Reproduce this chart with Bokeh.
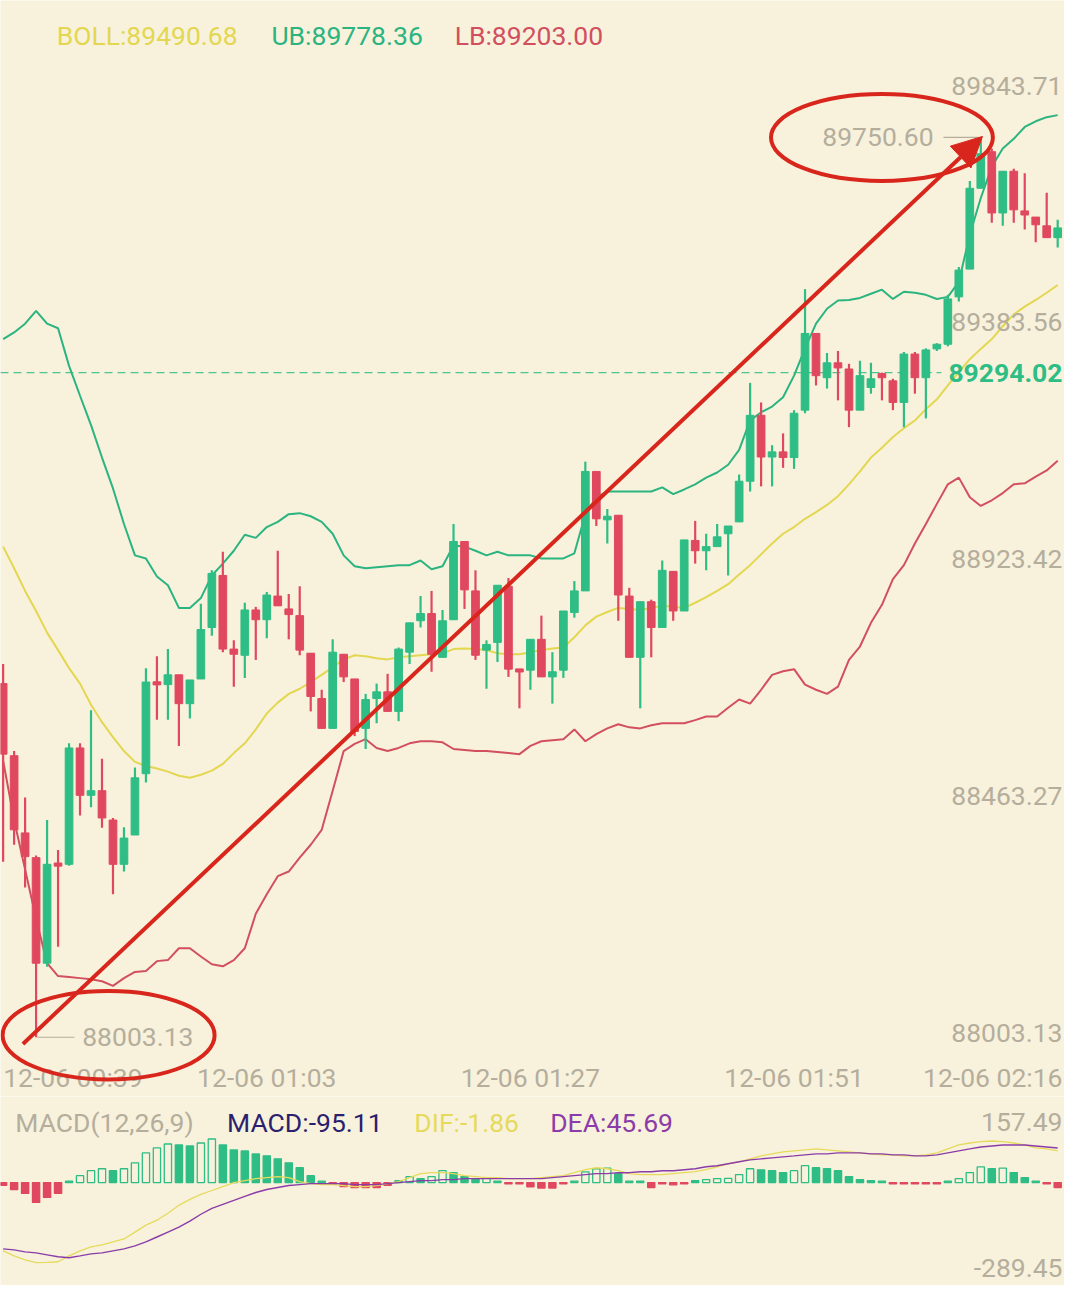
from bokeh.plotting import figure
from bokeh.models import Range1d, ColumnDataSource, Arrow, NormalHead
from bokeh.layouts import column
from bokeh.embed import file_html
from bokeh.resources import INLINE
from bokeh.core.properties import value

# ---------------- data ----------------
TIME_LABELS = ["12-06 00:39", "12-06 01:03", "12-06 01:27", "12-06 01:51", "12-06 02:16"]
TIME_IDX = [0, 24, 48, 72, 96]
TIME_ALIGN = ["left", "center", "center", "center", "right"]

OPEN = [88690, 88550, 88400, 88352, 88147, 88340, 88339, 88565, 88473, 88482,
        88425, 88339, 88396, 88515, 88693, 88688, 88707, 88651, 88699, 88799,
        88900, 88757, 88745, 88833, 88814, 88860, 88835, 88822, 88749, 88661,
        88603, 88747, 88699, 88603, 88661, 88674, 88636, 88751, 88812, 88826,
        88741, 88814, 88966, 88870, 88755, 88770, 88879, 88718, 88716, 88776,
        88703, 88716, 88828, 88870, 89102, 89008, 89017, 88860, 88741, 88849,
        88799, 88908, 88831, 88968, 88948, 88956, 88981, 89004, 89083, 89211,
        89130, 89140, 89129, 89221, 89370, 89284, 89313, 89301, 89221, 89265,
        89292, 89278, 89236, 89330, 89284, 89340, 89349, 89441, 89495, 89652,
        89723, 89604, 89685, 89608, 89596, 89579, 89556]
HIGH = [88728, 88559, 88469, 88356, 88425, 88367, 88574, 88574, 88638, 88544,
        88429, 88411, 88527, 88720, 88743, 88757, 88707, 88697, 88845, 88910,
        88946, 88774, 88847, 88839, 88868, 88948, 88864, 88879, 88749, 88678,
        88776, 88747, 88699, 88670, 88690, 88709, 88760, 88808, 88860, 88870,
        88833, 89000, 88966, 88910, 88774, 88881, 88895, 88718, 88776, 88822,
        88751, 88831, 88889, 89121, 89102, 89029, 89017, 88876, 88849, 88853,
        88929, 88908, 88969, 89006, 88981, 89000, 88996, 89096, 89274, 89236,
        89153, 89176, 89221, 89456, 89370, 89332, 89336, 89311, 89317, 89313,
        89294, 89282, 89334, 89334, 89341, 89351, 89445, 89499, 89666, 89750.60,
        89729, 89685, 89690, 89681, 89596, 89643, 89591]
LOW = [88344, 88377, 88294, 88003.13, 88140, 88179, 88336, 88434, 88450, 88410,
       88281, 88325, 88396, 88498, 88620, 88620, 88569, 88622, 88699, 88783,
       88751, 88684, 88701, 88736, 88778, 88841, 88776, 88745, 88636, 88603,
       88603, 88693, 88588, 88563, 88613, 88636, 88617, 88728, 88799, 88713,
       88741, 88814, 88835, 88736, 88680, 88732, 88703, 88642, 88678, 88703,
       88651, 88701, 88818, 88870, 88996, 88962, 88812, 88741, 88642, 88741,
       88799, 88812, 88831, 88923, 88910, 88956, 88900, 89004, 89063, 89073,
       89073, 89109, 89107, 89215, 89269, 89263, 89240, 89188, 89221, 89253,
       89240, 89221, 89188, 89253, 89205, 89336, 89345, 89432, 89495, 89652,
       89585, 89579, 89585, 89572, 89547, 89556, 89537]
CLOSE = [88553, 88406, 88354, 88147, 88339, 88337, 88565, 88473, 88482, 88429,
         88339, 88390, 88507, 88693, 88688, 88707, 88651, 88697, 88795, 88904,
         88757, 88747, 88833, 88814, 88862, 88841, 88824, 88755, 88665, 88603,
         88751, 88703, 88597, 88659, 88674, 88636, 88757, 88808, 88826, 88747,
         88812, 88966, 88872, 88745, 88766, 88881, 88718, 88713, 88776, 88703,
         88713, 88831, 88870, 89102, 89010, 89015, 88862, 88741, 88849, 88799,
         88910, 88831, 88969, 88948, 88956, 88975, 88996, 89083, 89211, 89130,
         89140, 89129, 89215, 89370, 89288, 89313, 89303, 89221, 89288, 89282,
         89284, 89236, 89330, 89284, 89338, 89349, 89437, 89493, 89652, 89719,
         89604, 89685, 89610, 89600, 89581, 89556, 89575]

UB = [89359, 89372, 89389, 89414, 89389, 89380, 89307, 89249, 89192, 89129,
      89069, 89000, 88939, 88933, 88898, 88881, 88837, 88837, 88856, 88900,
      88923, 88948, 88979, 88973, 88994, 89004, 89019, 89021, 89015, 89004,
      88981, 88939, 88918, 88914, 88916, 88918, 88920, 88920, 88929, 88912,
      88918, 88958, 88956, 88948, 88939, 88946, 88939, 88939, 88939, 88933,
      88933, 88933, 88943, 89019, 89052, 89063, 89063, 89063, 89063, 89063,
      89071, 89058, 89067, 89077, 89090, 89100, 89115, 89144, 89201, 89217,
      89228, 89246, 89288, 89341, 89389, 89418, 89434, 89435, 89439, 89447,
      89455, 89437, 89451, 89449, 89445, 89437, 89441, 89470, 89562, 89633,
      89694, 89729, 89748, 89771, 89782, 89790, 89794]
MB = [88956, 88914, 88870, 88831, 88789, 88755, 88720, 88690, 88649, 88615,
      88586, 88559, 88538, 88530, 88525, 88519, 88511, 88507, 88513, 88521,
      88534, 88555, 88574, 88601, 88632, 88653, 88670, 88680, 88693, 88707,
      88722, 88737, 88745, 88743, 88739, 88737, 88741, 88743, 88745, 88747,
      88749, 88757, 88758, 88757, 88755, 88749, 88747, 88747, 88751, 88755,
      88758, 88760, 88780, 88803, 88820, 88829, 88837, 88835, 88833, 88837,
      88841, 88839, 88837, 88847, 88858, 88870, 88883, 88902, 88920, 88941,
      88962, 88981, 88994, 89010, 89023, 89037, 89054, 89077, 89102, 89129,
      89148, 89169, 89186, 89201, 89223, 89242, 89269, 89295, 89320, 89340,
      89359, 89384, 89407, 89422, 89435, 89449, 89464]
LB = [88540, 88425, 88329, 88233, 88147, 88122, 88120, 88118, 88116, 88112,
      88103, 88118, 88130, 88132, 88151, 88153, 88176, 88176, 88160, 88145,
      88141, 88153, 88176, 88243, 88281, 88316, 88325, 88352, 88377, 88406,
      88482, 88559, 88573, 88582, 88565, 88559, 88565, 88574, 88578, 88578,
      88576, 88563, 88561, 88559, 88559, 88557, 88555, 88553, 88569, 88578,
      88580, 88582, 88601, 88578, 88592, 88603, 88611, 88605, 88603, 88609,
      88613, 88613, 88613, 88619, 88626, 88626, 88643, 88659, 88651, 88678,
      88707, 88714, 88718, 88688, 88678, 88670, 88684, 88736, 88762, 88808,
      88843, 88893, 88920, 88962, 89000, 89039, 89077, 89090, 89052, 89035,
      89046, 89060, 89077, 89079, 89092, 89104, 89123]

DIF = [-246.7, -264.6, -278.9, -289.45, -288.0, -286.0, -264.6, -246.7, -232.4, -225.2,
       -214.5, -203.8, -178.8, -153.7, -135.9, -110.8, -82.2, -60.8, -42.9, -28.6,
       -14.3, 0.0, 7.2, 14.3, 17.9, 21.5, 17.9, 3.6, -3.6, -7.2,
       -7.2, -10.7, -14.3, -14.3, -10.7, -3.6, 3.6, 17.9, 32.2, 35.8,
       35.8, 32.2, 25.0, 21.5, 17.9, 17.9, 14.3, 14.3, 14.3, 17.9,
       21.5, 25.0, 35.8, 46.5, 53.6, 50.0, 42.9, 32.2, 28.6, 28.6,
       28.6, 32.2, 35.8, 39.3, 46.5, 57.2, 67.9, 75.1, 85.8, 96.5,
       103.7, 110.8, 114.4, 118.0, 121.6, 118.0, 114.4, 110.8, 107.3, 103.7,
       100.1, 100.1, 96.5, 96.5, 100.1, 107.3, 121.6, 135.9, 143.0, 148.0,
       150.2, 148.0, 143.0, 135.9, 125.1, 121.6, 114.4]
DEA = [-239.5, -243.1, -250.3, -253.8, -261.0, -268.1, -271.7, -264.6, -257.4, -253.8,
       -246.7, -239.5, -228.8, -214.5, -196.6, -178.8, -160.9, -139.4, -114.4, -93.0,
       -78.7, -64.4, -50.0, -35.8, -25.0, -17.9, -10.7, -7.2, -3.6, -3.6,
       -3.6, -3.6, -7.2, -7.2, -7.2, -3.6, 0.0, 3.6, 7.2, 7.2,
       10.7, 10.7, 14.3, 14.3, 14.3, 14.3, 14.3, 14.3, 14.3, 14.3,
       17.9, 21.5, 25.0, 28.6, 32.2, 32.2, 35.8, 35.8, 39.3, 39.3,
       42.9, 42.9, 46.5, 50.0, 57.2, 60.8, 67.9, 75.1, 82.2, 85.8,
       89.4, 93.0, 96.5, 100.1, 103.7, 103.7, 107.3, 107.3, 107.3, 103.7,
       103.7, 100.1, 100.1, 96.5, 96.5, 100.1, 107.3, 114.4, 121.6, 128.7,
       132.3, 135.9, 135.9, 135.9, 132.3, 128.7, 125.1]
HIST = [-10, -25, -39, -71.5, -53.6, -39, 3, 25, 42.9, 50,
        42.9, 50, 71.5, 107.3, 125.1, 139.4, 135.9, 132.3, 143, 157.49,
        135.9, 118, 114.4, 103.7, 96.5, 85.8, 71.5, 53.6, 25, 3.6,
        -2, -14.3, -17.9, -17.9, -17.9, -10, 7.2, 21.5, 14.3, 21.5,
        42.9, 35.8, 21.5, 14.3, 15, 3, -3, -4, -15, -20,
        -20, -5, 3, 39, 50, 52, 32, 3, 2, -18,
        -5, -8, -3, 7, 11, 14, 15, 29, 50, 46,
        43, 36, 43, 61, 54, 50, 43, 21, 11, 7,
        1, -5, -5, -5, -5, -2, 2, 14, 36, 57,
        50, 52, 36, 18, 2, -5, -18]

PRICE_TICKS = [89843.71, 89383.56, 88923.42, 88463.27, 88003.13]
LAST_PRICE = 89294.02
BOLL_LEGEND = ["BOLL:89490.68", "UB:89778.36", "LB:89203.00"]
MACD_LEGEND = ["MACD(12,26,9)", "MACD:-95.11", "DIF:-1.86", "DEA:45.69"]
MACD_TICKS = [157.49, -289.45]

# ---------------- styling / layout ----------------
BG = "#f8f2dc"
GREEN = "#2ebd85"
RED = "#e0485f"
UB_C = "#2bb380"
MB_C = "#e3d752"
LB_C = "#d24f5f"
GRAY = "#b5ae9d"
ANN = "#d9261c"
DIF_C = "#e6da5c"
DEA_C = "#8b3ca8"
MACD_C = "#2c1f6e"
FONT = value("Roboto")
FS = "26.5px"

W, H = 1064, 1285
REF_W, REF_H, REF_SPLIT = 1080, 1301, 1110
H1 = round(H * REF_SPLIT / REF_H)
H2 = H - H1

X0, X1 = -0.24, 96.62
Y0, Y1 = 87888.1, 90016.6
M0, M1 = -371.8, 311.0


def rx(px):
    return X0 + px / REF_W * (X1 - X0)


def ry_main(py):
    return Y1 - py / REF_SPLIT * (Y1 - Y0)


def ry_macd(py):
    return M1 - (py - REF_SPLIT) / (REF_H - REF_SPLIT) * (M1 - M0)


xr = Range1d(X0, X1)


def make_fig(h, yr):
    f = figure(width=W, height=h, x_range=xr, y_range=yr, output_backend="svg",
               toolbar_location=None, x_axis_location=None, y_axis_location=None,
               min_border=0, min_border_left=0, min_border_right=0,
               min_border_top=0, min_border_bottom=0,
               background_fill_color=BG, border_fill_color=BG, outline_line_color=None)
    f.grid.visible = False
    return f


idx = list(range(len(OPEN)))

# ---------------- main candle chart ----------------
p = make_fig(H1, Range1d(Y0, Y1))

p.line(idx, UB, line_color=UB_C, line_width=2)
p.line(idx, MB, line_color=MB_C, line_width=2)
p.line(idx, LB, line_color=LB_C, line_width=2)

# last price dashed line
p.segment(x0=[X0], y0=[LAST_PRICE], x1=[rx(955)], y1=[LAST_PRICE],
          line_color=GREEN, line_width=1.2, line_dash="8 5", line_alpha=0.85)

MIN_BODY = 6.0
cols, tops, bots = [], [], []
for o, c in zip(OPEN, CLOSE):
    cols.append(GREEN if c >= o else RED)
    hi, lo = max(o, c), min(o, c)
    if hi - lo < MIN_BODY:
        mid = (hi + lo) / 2
        hi, lo = mid + MIN_BODY / 2, mid - MIN_BODY / 2
    tops.append(hi)
    bots.append(lo)
csrc = ColumnDataSource(dict(x=idx, h=HIGH, l=LOW, top=tops, bot=bots, col=cols))
p.segment(x0="x", y0="h", x1="x", y1="l", source=csrc, line_color="col", line_width=2.2)
p.vbar(x="x", width=0.7, top="top", bottom="bot", source=csrc,
       fill_color="col", line_color="col", line_width=1)

# right-side price labels
p.text(x=[X1] * len(PRICE_TICKS), y=PRICE_TICKS, text=[f"{v:.2f}" for v in PRICE_TICKS],
       text_align="right", text_baseline="middle", x_offset=-2, y_offset=-4,
       text_font=FONT, text_font_size=FS, text_color=GRAY)
p.text(x=[X1], y=[LAST_PRICE], text=[f"{LAST_PRICE:.2f}"], text_align="right",
       text_baseline="middle", x_offset=-2, text_font=FONT, text_font_size=FS,
       text_font_style="bold", text_color=GREEN)

# max / min markers
imax = max(idx, key=lambda i: HIGH[i])
imin = min(idx, key=lambda i: LOW[i])
p.segment(x0=[imax - 3.4], y0=[HIGH[imax]], x1=[imax - 0.2], y1=[HIGH[imax]],
          line_color=GRAY, line_width=1.2)
p.text(x=[imax - 4.3], y=[HIGH[imax]], text=[f"{HIGH[imax]:.2f}"], text_align="right",
       text_baseline="middle", text_font=FONT, text_font_size=FS, text_color=GRAY)
p.segment(x0=[imin + 0.1], y0=[LOW[imin]], x1=[imin + 3.5], y1=[LOW[imin]],
          line_color=GRAY, line_width=1.2)
p.text(x=[imin + 4.2], y=[LOW[imin]], text=[f"{LOW[imin]:.2f}"], text_align="left",
       text_baseline="middle", text_font=FONT, text_font_size=FS, text_color=GRAY)

# time labels (the last one is pinned to the right edge)
for t, i, a in zip(TIME_LABELS, TIME_IDX, TIME_ALIGN):
    p.text(x=[X1 if a == "right" else i], y=[ry_main(1091)], text=[t], text_align=a,
           text_baseline="middle", x_offset=(-2 if a == "right" else 0),
           text_font=FONT, text_font_size=FS, text_color=GRAY)

# BOLL legend
for t, px, c in zip(BOLL_LEGEND, [57, 275, 461], [MB_C, UB_C, LB_C]):
    p.text(x=[rx(px)], y=[ry_main(35)], text=[t], text_align="left", text_baseline="middle",
           text_font=FONT, text_font_size=FS, text_color=c)

# hand-drawn style annotations
p.ellipse(x=[imax - 9.0, imin + 6.6], y=[HIGH[imax], LOW[imin] + 4],
          width=[20.2, 19.3], height=[169, 172], fill_alpha=0,
          line_color=ANN, line_width=4)
p.add_layout(Arrow(end=NormalHead(size=30, fill_color=ANN, line_color=ANN),
                   x_start=imin - 1.2, y_start=LOW[imin] - 13,
                   x_end=imax + 0.15, y_end=HIGH[imax] + 2,
                   line_color=ANN, line_width=4))

# ---------------- MACD panel ----------------
q = make_fig(H2, Range1d(M0, M1))
MIN_BAR = 5.0
htop, hbot, hfill, hline = [], [], [], []
prev = None
for v in HIST:
    mag = max(abs(v), MIN_BAR)
    if v >= 0:
        htop.append(mag)
        hbot.append(0)
        hline.append(GREEN)
        hfill.append(BG if (prev is not None and v > prev and v > 8) else GREEN)
    else:
        htop.append(0)
        hbot.append(-mag)
        hline.append(RED)
        hfill.append(RED)
    prev = v
hsrc = ColumnDataSource(dict(x=idx, top=htop, bot=hbot, fc=hfill, lc=hline))
q.vbar(x="x", width=0.66, top="top", bottom="bot", source=hsrc,
       fill_color="fc", line_color="lc", line_width=1.3)
q.line(idx, DIF, line_color=DIF_C, line_width=1.3)
q.line(idx, DEA, line_color=DEA_C, line_width=1.4)

for t, px, c in zip(MACD_LEGEND, [15, 230, 420, 558], [GRAY, MACD_C, DIF_C, DEA_C]):
    q.text(x=[rx(px)], y=[ry_macd(1136)], text=[t], text_align="left", text_baseline="middle",
           text_font=FONT, text_font_size=FS, text_color=c)
q.text(x=[X1, X1], y=[ry_macd(1136), ry_macd(1283)], text=[f"{v:.2f}" for v in MACD_TICKS],
       text_align="right", text_baseline="middle", x_offset=-2,
       text_font=FONT, text_font_size=FS, text_color=GRAY)

layout = column(p, q, spacing=0)
open("out.html", "w").write(file_html(layout, INLINE))
